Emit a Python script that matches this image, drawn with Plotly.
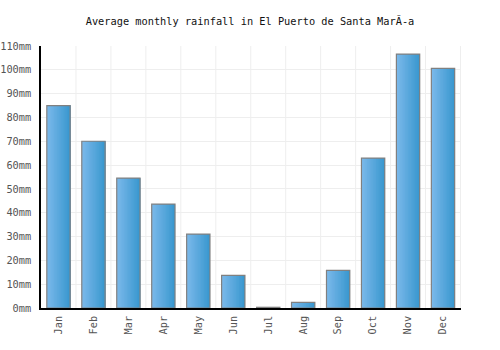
import plotly.graph_objects as go

months = ["Jan", "Feb", "Mar", "Apr", "May", "Jun", "Jul", "Aug", "Sep", "Oct", "Nov", "Dec"]
rainfall = [85, 70, 54.5, 43.6, 31, 13.7, 0.3, 2.4, 15.8, 62.9, 106.6, 100.6]
y_ticks = list(range(0, 111, 10))
y_tick_labels = [f"{v}mm" for v in y_ticks]

title = "Average monthly rainfall in El Puerto de Santa MarÃ-a"

fig = go.Figure()

# gradient simulated by overlapping slices (each runs to the bar's right edge)
n = 16
bar_w = 0.667
c0 = (0x7a, 0xb8, 0xea)
c1 = (0x3a, 0x98, 0xcf)
slice_w = bar_w / n
for i in range(n):
    t = i / (n - 1)
    col = tuple(int(round(c0[k] + (c1[k] - c0[k]) * t)) for k in range(3))
    fig.add_trace(go.Bar(
        x=months, y=rainfall,
        width=bar_w - i * slice_w,
        offset=-bar_w / 2 + i * slice_w,
        marker=dict(color="rgb(%d,%d,%d)" % col, line=dict(width=0)),
        hoverinfo="skip", showlegend=False,
    ))
# outline
fig.add_trace(go.Bar(
    x=months, y=rainfall, width=bar_w, offset=-bar_w / 2,
    marker=dict(color="rgba(0,0,0,0)", line=dict(color="#808080", width=1.2)),
    showlegend=False,
))

fig.update_layout(
    width=500, height=350,
    margin=dict(l=41, r=39, t=46, b=42),
    paper_bgcolor="white", plot_bgcolor="white",
    barmode="overlay",
    title=dict(text=title, x=0.5, xanchor="center", y=0.94, yanchor="middle",
               font=dict(family="DejaVu Sans Mono", size=10.3, color="#111")),
    font=dict(family="DejaVu Sans Mono", size=10.3, color="#555"),
)
fig.update_xaxes(
    tickangle=-90, showgrid=False, showline=True, linecolor="#000", linewidth=1.5,
    ticks="", tickfont=dict(size=10.3, color="#555"), automargin=False,
    ticklabelstandoff=2,
)
for k in range(1, len(months) + 1):
    fig.add_shape(type="line", xref="x", yref="paper", x0=k - 0.5, x1=k - 0.5, y0=0, y1=1,
                  line=dict(color="#eeeeee", width=1), layer="below")
fig.update_yaxes(
    range=[0, 110], tickvals=y_ticks, ticktext=y_tick_labels,
    showgrid=True, gridcolor="#eeeeee", gridwidth=1,
    showline=True, linecolor="#000", linewidth=1.5, zeroline=False,
    ticks="", ticklen=0, tickfont=dict(size=10.3, color="#555"), automargin=False,
    ticklabelstandoff=6,
)
fig.write_html("out.html")
